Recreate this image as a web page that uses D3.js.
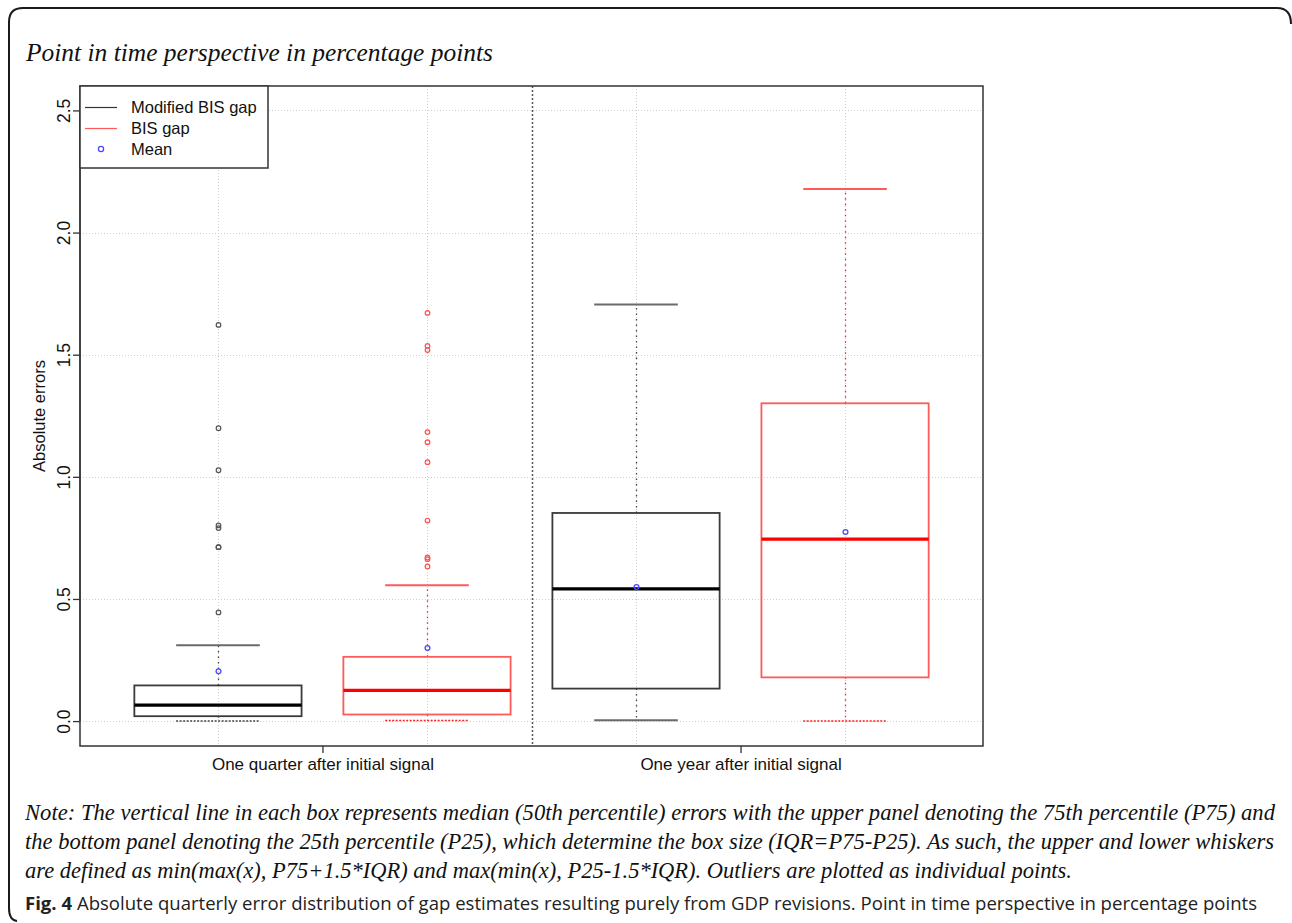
<!DOCTYPE html>
<html>
<head>
<meta charset="utf-8">
<script src="https://cdn.jsdelivr.net/npm/d3@7"></script>
<style>
  html, body { margin: 0; padding: 0; background: #fff; }
  svg { display: block; }
</style>
</head>
<body>
<svg id="chart" width="1292" height="923"></svg>
<script>
// ---------------- DATA ----------------
const groups = ["One quarter after initial signal", "One year after initial signal"];
const seriesNames = ["Modified BIS gap", "BIS gap"];
const yTicks = [0, 0.5, 1.0, 1.5, 2.0, 2.5];
const yTickLabels = ["0.0", "0.5", "1.0", "1.5", "2.0", "2.5"];

// Modified BIS gap (per group)
const modLow    = [0.000, 0.003];
const modQ1     = [0.020, 0.133];
const modMedian = [0.065, 0.541];
const modQ3     = [0.146, 0.852];
const modHigh   = [0.310, 1.705];
const modMean   = [0.204, 0.549];
const modOutliers = [[1.622, 1.199, 1.027, 0.801, 0.790, 0.712, 0.712, 0.445], []];

// BIS gap (per group)
const bisLow    = [0.002, 0.000];
const bisQ1     = [0.027, 0.179];
const bisMedian = [0.126, 0.745];
const bisQ3     = [0.263, 1.301];
const bisHigh   = [0.556, 2.178];
const bisMean   = [0.299, 0.774];
const bisOutliers = [[1.671, 1.536, 1.519, 1.183, 1.142, 1.060, 0.821, 0.670, 0.663, 0.633], []];

const titleText = "Point in time perspective in percentage points";
const yTitle = "Absolute errors";
const noteLines = [
  "Note: The vertical line in each box represents median (50th percentile) errors with the upper panel denoting the 75th percentile (P75) and",
  "the bottom panel denoting the 25th percentile (P25), which determine the box size (IQR=P75-P25). As such, the upper and lower whiskers",
  "are defined as min(max(x), P75+1.5*IQR) and max(min(x), P25-1.5*IQR). Outliers are plotted as individual points."
];
const figLabel = "Fig. 4";
const figText = " Absolute quarterly error distribution of gap estimates resulting purely from GDP revisions. Point in time perspective in percentage points";

// ---------------- BUILD ----------------
const boxes = [];
groups.forEach((g, gi) => {
  boxes.push({pos: gi * 2 + 1, series: 0, low: modLow[gi], q1: modQ1[gi], med: modMedian[gi], q3: modQ3[gi], high: modHigh[gi], mean: modMean[gi], out: modOutliers[gi]});
  boxes.push({pos: gi * 2 + 2, series: 1, low: bisLow[gi], q1: bisQ1[gi], med: bisMedian[gi], q3: bisQ3[gi], high: bisHigh[gi], mean: bisMean[gi], out: bisOutliers[gi]});
});

const styles = [
  {box: "#3a3a3a", med: "#000", cap: "#6a6a6a", whisk: "#444", pt: "#555"},
  {box: "#ff5a5a", med: "#ff0000", cap: "#ff5a5a", whisk: "#ff2020", pt: "#ff5050"}
];

const svg = d3.select("#chart");
const plot = {left: 80, right: 983, top: 86, bottom: 746};

const x = d3.scaleLinear().domain([0.34, 4.66]).range([plot.left, plot.right]);
const y = d3.scaleLinear().domain([-0.102, 2.6]).range([plot.bottom, plot.top]);

// Outer rounded frame
svg.append("path")
  .attr("d", "M1291,24 Q1291,8 1277,8 L23,8 Q9,8 9,22 L9,908 Q9,920 17,921")
  .attr("fill", "none").attr("stroke", "#1a1a1a").attr("stroke-width", 2);

// Title
svg.append("text")
  .attr("x", 26).attr("y", 61)
  .attr("textLength", 467).attr("lengthAdjust", "spacingAndGlyphs")
  .attr("font-family", "'Liberation Serif', 'Times New Roman', serif")
  .attr("font-style", "italic").attr("font-size", 26).attr("fill", "#111")
  .text(titleText);

// Grid
const g = svg.append("g");
g.selectAll("line.hgrid").data(yTicks).join("line")
  .attr("x1", plot.left).attr("x2", plot.right)
  .attr("y1", d => Math.round(y(d)) + 0.5).attr("y2", d => Math.round(y(d)) + 0.5)
  .attr("stroke", "#cfcfcf").attr("stroke-dasharray", "1,2");
g.selectAll("line.vgrid").data([1, 2, 3, 4]).join("line")
  .attr("x1", d => Math.round(x(d)) + 0.5).attr("x2", d => Math.round(x(d)) + 0.5)
  .attr("y1", plot.top).attr("y2", plot.bottom)
  .attr("stroke", "#cfcfcf").attr("stroke-dasharray", "1,2");

// Separator
g.append("line")
  .attr("x1", Math.round(x(2.5)) + 0.5).attr("x2", Math.round(x(2.5)) + 0.5)
  .attr("y1", plot.top).attr("y2", plot.bottom)
  .attr("stroke", "#555").attr("stroke-width", 1.5).attr("stroke-dasharray", "2,2");

// Boxes
const hw = 0.4, cw = 0.2;
boxes.forEach(b => {
  const s = styles[b.series];
  const cx = Math.round(x(b.pos)) + 0.5;
  const bg = g.append("g");
  bg.append("line").attr("x1", cx).attr("x2", cx).attr("y1", y(b.q3)).attr("y2", y(b.high))
    .attr("stroke", s.whisk).attr("stroke-width", 1.3).attr("stroke-dasharray", "1.5,4");
  bg.append("line").attr("x1", cx).attr("x2", cx).attr("y1", y(b.q1)).attr("y2", y(b.low))
    .attr("stroke", s.whisk).attr("stroke-width", 1.3).attr("stroke-dasharray", "1.5,4");
  const lowDotted = b.low < 0.0025;
  bg.append("line").attr("x1", x(b.pos - cw)).attr("x2", x(b.pos + cw))
    .attr("y1", y(b.high)).attr("y2", y(b.high))
    .attr("stroke", s.cap).attr("stroke-width", 2);
  bg.append("line").attr("x1", x(b.pos - cw)).attr("x2", x(b.pos + cw))
    .attr("y1", y(b.low)).attr("y2", y(b.low))
    .attr("stroke", lowDotted ? s.whisk : s.cap).attr("stroke-width", lowDotted ? 1.5 : 2)
    .attr("stroke-dasharray", lowDotted ? "2,1.5" : null);
  bg.append("rect").attr("x", x(b.pos - hw)).attr("width", x(b.pos + hw) - x(b.pos - hw))
    .attr("y", y(b.q3)).attr("height", y(b.q1) - y(b.q3))
    .attr("fill", "none").attr("stroke", s.box).attr("stroke-width", 1.8);
  bg.append("line").attr("x1", x(b.pos - hw)).attr("x2", x(b.pos + hw))
    .attr("y1", y(b.med)).attr("y2", y(b.med))
    .attr("stroke", s.med).attr("stroke-width", 3.2);
  bg.selectAll("circle.out").data(b.out).join("circle")
    .attr("cx", cx).attr("cy", d => y(d)).attr("r", 2.3)
    .attr("fill", "none").attr("stroke", s.pt).attr("stroke-width", 1.2);
  bg.append("circle").attr("cx", cx).attr("cy", y(b.mean)).attr("r", 2.4)
    .attr("fill", "none").attr("stroke", "#4a4aff").attr("stroke-width", 1.3);
});

// Plot frame
svg.append("rect").attr("x", plot.left).attr("y", plot.top)
  .attr("width", plot.right - plot.left).attr("height", plot.bottom - plot.top)
  .attr("fill", "none").attr("stroke", "#333").attr("stroke-width", 1.5);

// Y axis
const yAxis = d3.axisLeft(y).tickValues(yTicks).tickSize(7).tickFormat((d, i) => yTickLabels[i]);
const ya = svg.append("g").attr("transform", `translate(${plot.left},0)`).call(yAxis);
ya.selectAll(".domain").attr("d", `M0,${y(0)}V${y(2.5)}`).attr("stroke", "#333").attr("stroke-width", 1.3);
ya.selectAll(".tick line").attr("stroke", "#333").attr("stroke-width", 1.3);
ya.selectAll(".tick text")
  .attr("x", null).attr("dy", null)
  .attr("transform", "translate(-10,0) rotate(-90)")
  .attr("text-anchor", "middle")
  .attr("font-family", "'Liberation Sans', Arial, sans-serif")
  .attr("font-size", 17.5).attr("fill", "#111");

svg.append("text")
  .attr("transform", `translate(45,${(plot.top + plot.bottom) / 2}) rotate(-90)`)
  .attr("text-anchor", "middle")
  .attr("font-family", "'Liberation Sans', Arial, sans-serif")
  .attr("font-size", 16.5).attr("fill", "#111")
  .text(yTitle);

// X axis
const xAxis = d3.axisBottom(x).tickValues([1.5, 3.5]).tickSize(7).tickFormat((d, i) => groups[i]);
const xa = svg.append("g").attr("transform", `translate(0,${plot.bottom})`).call(xAxis);
xa.select(".domain").remove();
xa.selectAll(".tick line").attr("stroke", "#333").attr("stroke-width", 1.3);
xa.selectAll(".tick text")
  .attr("y", 12).attr("dy", "0.71em")
  .attr("font-family", "'Liberation Sans', Arial, sans-serif")
  .attr("font-size", 17).attr("fill", "#111");

// Legend
const lg = svg.append("g");
lg.append("rect").attr("x", plot.left).attr("y", plot.top).attr("width", 188).attr("height", 82)
  .attr("fill", "#fff").attr("stroke", "#333").attr("stroke-width", 1.5);
const legendY = [107.5, 128.5, 149];
lg.append("line").attr("x1", 85).attr("x2", 117).attr("y1", legendY[0]).attr("y2", legendY[0])
  .attr("stroke", "#333").attr("stroke-width", 1.2);
lg.append("line").attr("x1", 85).attr("x2", 117).attr("y1", legendY[1]).attr("y2", legendY[1])
  .attr("stroke", "#ff5a5a").attr("stroke-width", 1.2);
lg.append("circle").attr("cx", 101).attr("cy", legendY[2]).attr("r", 2.6)
  .attr("fill", "none").attr("stroke", "#4a4aff").attr("stroke-width", 1.3);
const legendLabels = [seriesNames[0], seriesNames[1], "Mean"];
lg.selectAll("text.leg").data(legendLabels).join("text")
  .attr("x", 131).attr("y", (d, i) => legendY[i]).attr("dy", "0.35em")
  .attr("font-family", "'Liberation Sans', Arial, sans-serif")
  .attr("font-size", 16.5).attr("fill", "#111")
  .text(d => d);

// Note
const noteWidths = [1250, 1249, 1047];
const noteBase = [820, 849, 878];
svg.selectAll("text.note").data(noteLines).join("text")
  .attr("x", 25).attr("y", (d, i) => noteBase[i])
  .attr("textLength", (d, i) => noteWidths[i]).attr("lengthAdjust", "spacingAndGlyphs")
  .attr("font-family", "'Liberation Serif', 'Times New Roman', serif")
  .attr("font-style", "italic").attr("font-size", 22.5).attr("fill", "#111")
  .text(d => d);

// Figure caption
const fig = svg.append("text").attr("x", 25).attr("y", 910)
  .attr("textLength", 1232).attr("lengthAdjust", "spacingAndGlyphs")
  .attr("font-family", "'Open Sans', 'Noto Sans', sans-serif")
  .attr("font-size", 18.5).attr("fill", "#222");
fig.append("tspan").attr("font-weight", "bold").text(figLabel);
fig.append("tspan").text(figText);
</script>
</body>
</html>
